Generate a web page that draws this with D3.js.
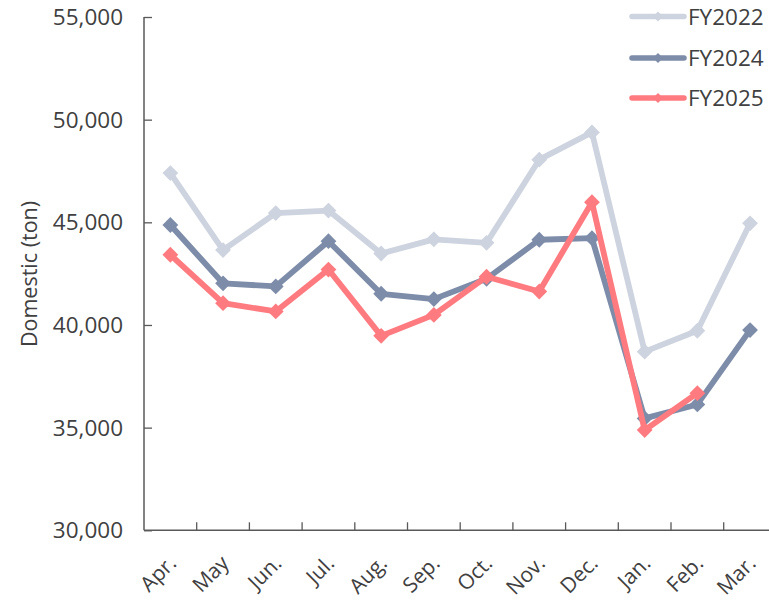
<!DOCTYPE html>
<html><head><meta charset="utf-8">
<script src="https://cdn.jsdelivr.net/npm/d3@7"></script>
<style>body{margin:0;background:#fff}svg{display:block}</style>
</head><body>
<svg id="c" width="769" height="601"></svg>
<script>
const months = ["Apr.","May","Jun.","Jul.","Aug.","Sep.","Oct.","Nov.","Dec.","Jan.","Feb.","Mar."];
const fy2022 = [47400,43650,45450,45570,43480,44170,44000,48050,49380,38700,39720,44950];
const fy2024 = [44870,42030,41880,44080,41520,41260,42250,44150,44230,35450,36130,39750];
const fy2025 = [43420,41060,40660,42700,39470,40490,42350,41630,45980,34880,36680,null];
const seriesNames = ["FY2022","FY2024","FY2025"];
const yTicks = [30000,35000,40000,45000,50000,55000];

const colors = ["#cdd3df","#7d8ca8","#ff7b80"];
const series = [fy2022, fy2024, fy2025];
const svg = d3.select("#c");
const font = "'Open Sans', sans-serif";
const x = d3.scaleBand().domain(months).range([144, 776.4]);
const y = d3.scaleLinear().domain([30000,55000]).range([530.3, 17]);
const axisColor = "#595959";
const textColor = "#404040";

// y axis
const ya = svg.append("g").attr("transform","translate(144,0)")
  .call(d3.axisRight(y).tickValues(yTicks).tickSize(8).tickFormat(""));
ya.select(".domain").attr("stroke",axisColor).attr("stroke-width",1.5).attr("d","M0,17V530.3");
ya.selectAll(".tick line").attr("stroke",axisColor).attr("stroke-width",1.3);
svg.append("g").selectAll("text").data(yTicks).join("text")
  .attr("x",123).attr("y",d=>y(d)).attr("dy","0.36em").attr("text-anchor","end")
  .attr("font-family",font).attr("font-size",22.5).attr("fill",textColor)
  .text(d=>d3.format(",")(d));

// x axis
const bounds = months.slice(1).map(m=>x(m)).concat([x.range()[1]]);
const xa = svg.append("g");
xa.append("line").attr("x1",144).attr("x2",776).attr("y1",y(30000)).attr("y2",y(30000))
  .attr("stroke",axisColor).attr("stroke-width",1.5);
xa.selectAll("line.t").data(bounds).join("line").attr("class","t")
  .attr("x1",d=>d).attr("x2",d=>d).attr("y1",y(30000)).attr("y2",y(30000)-8)
  .attr("stroke",axisColor).attr("stroke-width",1.3);
xa.selectAll("text").data(months).join("text")
  .attr("transform",d=>`translate(${x(d)+x.bandwidth()/2+2},${y(30000)+29}) rotate(-45)`)
  .attr("text-anchor","end").attr("dy","0.35em")
  .attr("font-family",font).attr("font-size",21).attr("fill",textColor)
  .text(d=>d);

// y title
svg.append("text").attr("transform","translate(29,274) rotate(-90)")
  .attr("text-anchor","middle").attr("dy","0.35em").attr("font-family",font).attr("font-size",21.5)
  .attr("fill",textColor).text("Domestic (ton)");

// lines
const line = d3.line().defined(d=>d!=null)
  .x((d,i)=>x(months[i])+x.bandwidth()/2).y(d=>y(d));
const diamond = d3.symbol().type(d3.symbolSquare).size(125);
series.forEach((s,k)=>{
  const g = svg.append("g");
  g.append("path").attr("d",line(s)).attr("fill","none").attr("stroke",colors[k])
    .attr("stroke-width",5.8).attr("stroke-linejoin","round");
  g.selectAll("path.m").data(s.map((v,i)=>({v,i})).filter(d=>d.v!=null)).join("path").attr("class","m")
    .attr("d",diamond).attr("fill",colors[k])
    .attr("transform",d=>`translate(${x(months[d.i])+x.bandwidth()/2},${y(d.v)}) rotate(45)`);
});

// legend
const legY = [16.5,58,98];
const lg = svg.append("g");
seriesNames.forEach((n,k)=>{
  lg.append("line").attr("x1",632).attr("x2",684).attr("y1",legY[k]).attr("y2",legY[k])
    .attr("stroke",colors[k]).attr("stroke-width",5.5).attr("stroke-linecap","round");
  lg.append("path").attr("d",d3.symbol().type(d3.symbolSquare).size(50)())
    .attr("fill",colors[k]).attr("transform",`translate(658,${legY[k]}) rotate(45)`);
  lg.append("text").attr("x",688).attr("y",legY[k]).attr("dy","0.36em")
    .attr("font-family",font).attr("font-size",22.5).attr("fill",textColor).text(n);
});
</script>
</body></html>
